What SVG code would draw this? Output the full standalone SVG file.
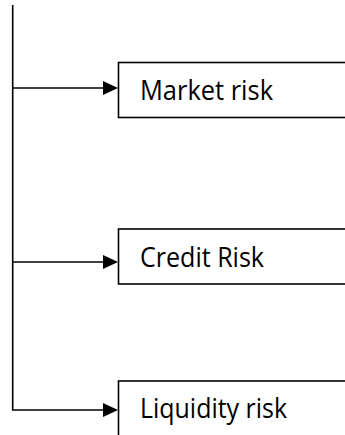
<svg xmlns="http://www.w3.org/2000/svg" width="345" height="435" viewBox="0 0 345 435">
<defs>
<style>
.box{fill:#fff;stroke:#000;stroke-width:1.6}
.lbl{font-family:"Open Sans","Liberation Sans",sans-serif;font-size:26.5px;fill:#000}
.conn{fill:none;stroke:#000;stroke-width:1.6}
</style>
</defs>
<rect width="345" height="435" fill="#fff"/>
<g id="connectors">
<path class="conn" d="M12.7,5 V410 H104"/>
<path class="conn" d="M12.7,88 H104"/>
<path class="conn" d="M12.7,262 H104"/>
<path d="M103,81 L118,88 L103,95 Z"/>
<path d="M103,255 L118,262 L103,269 Z"/>
<path d="M103,403 L118,410 L103,417 Z"/>
</g>
<g id="market">
<rect class="box" x="118.5" y="62.5" width="240" height="55"/>
<text class="lbl" x="140" y="100" textLength="133" lengthAdjust="spacingAndGlyphs">Market risk</text>
</g>
<g id="credit">
<rect class="box" x="118.5" y="229" width="240" height="55"/>
<text class="lbl" x="140" y="267" textLength="124" lengthAdjust="spacingAndGlyphs">Credit Risk</text>
</g>
<g id="liquidity">
<rect class="box" x="118.5" y="381" width="240" height="70"/>
<text class="lbl" x="140" y="418" textLength="147" lengthAdjust="spacingAndGlyphs">Liquidity risk</text>
</g>
</svg>
